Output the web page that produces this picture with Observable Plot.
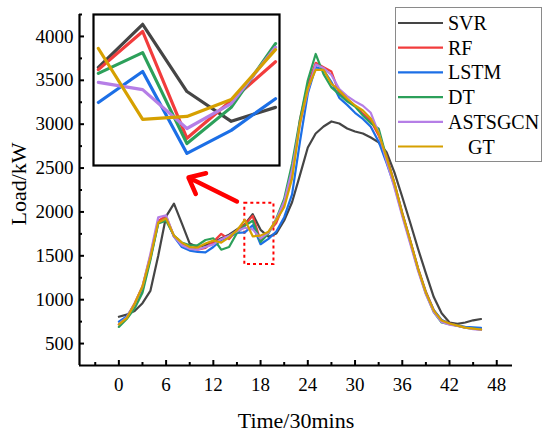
<!DOCTYPE html>
<html>
<head>
<meta charset="utf-8">
<script src="https://cdn.jsdelivr.net/npm/d3@7"></script>
<script src="https://cdn.jsdelivr.net/npm/@observablehq/plot@0.6"></script>
<style>
  html, body { margin: 0; padding: 0; background: white; }
  #wrap { position: relative; width: 550px; height: 433px; overflow: hidden; font-family: "Liberation Serif", "Times New Roman", serif; }
  #inset { position: absolute; left: 91px; top: 12px; }
  #legend { position: absolute; left: 395px; top: 7px; }
  svg text { font-family: "Liberation Serif", "Times New Roman", serif; }
</style>
</head>
<body>
<div id="wrap">
  <div id="main"></div>
  <div id="inset"></div>
  <div id="legend"></div>
</div>
<script>
const FONT = '"Liberation Serif", "Times New Roman", serif';

// time steps (30-min intervals)
const time = d3.range(0, 47);

const seriesNames = ["SVR", "RF", "LSTM", "DT", "ASTSGCN", "GT"];
const seriesColors = ["#454545", "#f23c3c", "#1c6fe6", "#2ca05a", "#b57ee6", "#d6a000"];

const SVR = [805, 830, 870, 960, 1100, 1500, 1950, 2095, 1870, 1640, 1600, 1620, 1650, 1700, 1740, 1800, 1860, 1974, 1796, 1717, 1754, 1902, 2110, 2420, 2734, 2894, 2974, 3031, 3008, 2951, 2917, 2894, 2848, 2792, 2680, 2450, 2170, 1880, 1580, 1300, 1030, 845, 740, 725, 740, 765, 780];
const RF = [720, 800, 960, 1150, 1500, 1900, 1950, 1720, 1640, 1600, 1570, 1590, 1660, 1750, 1690, 1790, 1854, 1955, 1672, 1772, 1875, 2100, 2420, 3050, 3450, 3700, 3650, 3600, 3350, 3280, 3210, 3120, 3040, 2870, 2640, 2330, 1990, 1680, 1360, 1090, 880, 765, 728, 705, 685, 675, 665];
const LSTM = [750, 810, 940, 1120, 1470, 1870, 1930, 1720, 1600, 1560, 1545, 1540, 1600, 1680, 1720, 1760, 1767, 1849, 1632, 1693, 1777, 1940, 2200, 2800, 3350, 3650, 3620, 3480, 3300, 3220, 3130, 3060, 2970, 2800, 2560, 2300, 1970, 1660, 1350, 1080, 880, 770, 725, 705, 690, 685, 680];
const DT = [690, 780, 900, 1080, 1450, 1870, 1900, 1730, 1650, 1620, 1620, 1680, 1700, 1570, 1600, 1760, 1844, 1899, 1658, 1754, 1923, 2150, 2550, 3050, 3500, 3800, 3570, 3420, 3340, 3260, 3200, 3100, 3010, 2950, 2620, 2320, 1980, 1670, 1345, 1070, 860, 740, 720, 705, 680, 670, 660];
const ASTSGCN = [720, 800, 950, 1150, 1520, 1940, 1960, 1720, 1620, 1580, 1570, 1600, 1630, 1690, 1730, 1780, 1820, 1801, 1698, 1764, 1913, 2120, 2480, 3000, 3380, 3680, 3640, 3560, 3400, 3320, 3260, 3210, 3130, 2900, 2580, 2280, 1950, 1640, 1330, 1060, 860, 745, 715, 700, 680, 665, 655];
const GT = [720, 790, 950, 1150, 1480, 1880, 1925, 1730, 1650, 1600, 1595, 1640, 1675, 1650, 1710, 1790, 1910, 1722, 1730, 1775, 1907, 2054, 2380, 3008, 3407, 3620, 3620, 3461, 3384, 3293, 3213, 3156, 3065, 2894, 2620, 2326, 1982, 1674, 1355, 1081, 876, 762, 728, 705, 682, 671, 660];

const seriesValues = [SVR, RF, LSTM, DT, ASTSGCN, GT];

const xTicks = [0, 6, 12, 18, 24, 30, 36, 42, 48];
const xMinorTicks = [-3, 3, 9, 15, 21, 27, 33, 39, 45];
const yTicks = [500, 1000, 1500, 2000, 2500, 3000, 3500, 4000];
const yMinorTicks = [750, 1250, 1750, 2250, 2750, 3250, 3750, 4250];
const xDomain = [-5, 50];
const yDomain = [250, 4250];

const xTitle = "Time/30mins";
const yTitle = "Load/kW";

// zoom window shown in the inset
const zoomT = [16, 20];
const zoomBox = [{x1: 16, x2: 19.7, y1: 1400, y2: 2100}];
const insetX = [15.89, 20.09];
const insetY = [1600, 2000];
const arrowData = [{x1: 15.0, y1: 2120, x2: 8.85, y2: 2392}];

const rows = [];
seriesNames.forEach((name, i) => {
  seriesValues[i].forEach((v, j) => rows.push({series: name, t: time[j], v}));
});
const insetRows = rows.filter(d => d.t >= zoomT[0] && d.t <= zoomT[1]);

const color = {domain: seriesNames, range: seriesColors};

const main = Plot.plot({
  width: 550,
  height: 433,
  marginLeft: 79,
  marginRight: 38,
  marginTop: 14,
  marginBottom: 68,
  x: {domain: xDomain, label: null},
  y: {domain: yDomain, label: null},
  color,
  style: {fontFamily: FONT, fontSize: "19px", color: "black", background: "white", overflow: "visible"},
  marks: [
    Plot.axisX({ticks: xTicks, tickSize: -5, tickFormat: () => "", strokeWidth: 2, label: null}),
    Plot.axisX({ticks: xMinorTicks, tickSize: -3, tickFormat: () => "", strokeWidth: 2, label: null}),
    Plot.axisX({ticks: xTicks, tickSize: 0, tickPadding: 12, fontSize: 19, fontFamily: FONT, label: null}),
    Plot.axisY({ticks: yTicks, tickSize: -5, tickFormat: () => "", strokeWidth: 2, label: null}),
    Plot.axisY({ticks: yMinorTicks, tickSize: -3, tickFormat: () => "", strokeWidth: 2, label: null}),
    Plot.axisY({ticks: yTicks, tickSize: 0, tickPadding: 6, fontSize: 19, fontFamily: FONT, tickFormat: d => String(d), label: null}),
    Plot.ruleY([yDomain[0]], {strokeWidth: 2.2}),
    Plot.ruleX([xDomain[0]], {strokeWidth: 2.2}),
    Plot.text([xTitle], {frameAnchor: "bottom", dy: 55, fontSize: 22, fontFamily: FONT, textAnchor: "middle", lineAnchor: "middle"}),
    Plot.text([yTitle], {frameAnchor: "left", dx: -61, dy: -6, rotate: -90, fontSize: 22, fontFamily: FONT, textAnchor: "middle", lineAnchor: "middle"}),
    Plot.rect(zoomBox, {x1: "x1", x2: "x2", y1: "y1", y2: "y2", fill: "none", stroke: "#ff0000", strokeWidth: 2, strokeDasharray: "3,3"}),
    Plot.arrow(arrowData, {x1: "x1", y1: "y1", x2: "x2", y2: "y2", stroke: "#ff0000", strokeWidth: 4.5, headLength: 17, headAngle: 80}),
    Plot.line(rows, {x: "t", y: "v", z: "series", stroke: "series", strokeWidth: 2.2, curve: "linear"})
  ]
});
document.getElementById("main").appendChild(main);

const inset = Plot.plot({
  width: 190,
  height: 155,
  margin: 2,
  x: {domain: insetX, axis: null},
  y: {domain: insetY, axis: null},
  color,
  style: {background: "white", overflow: "visible"},
  marks: [
    Plot.line(insetRows, {x: "t", y: "v", z: "series", stroke: "series", strokeWidth: 3.2}),
    Plot.frame({stroke: "black", strokeWidth: 2.2})
  ]
});
document.getElementById("inset").appendChild(inset);

// legend
const lw = 147, lh = 155;
const leg = d3.create("svg").attr("width", lw).attr("height", lh)
  .attr("font-family", FONT).attr("font-size", 20);
leg.append("rect").attr("x", 0.5).attr("y", 0.5).attr("width", lw - 1).attr("height", lh - 1)
  .attr("fill", "white").attr("stroke", "#8a8a8a").attr("stroke-width", 1);
seriesNames.forEach((name, i) => {
  const y = 16 + i * 24.7;
  leg.append("line").attr("x1", 3).attr("x2", 48).attr("y1", y).attr("y2", y)
    .attr("stroke", seriesColors[i]).attr("stroke-width", 2.2);
  leg.append("text").attr("x", name === "GT" ? 73 : 53).attr("y", y).attr("dy", "0.35em")
    .attr("font-family", FONT).attr("font-size", 20)
    .attr("fill", "black").text(name);
});
document.getElementById("legend").appendChild(leg.node());
</script>
</body>
</html>
